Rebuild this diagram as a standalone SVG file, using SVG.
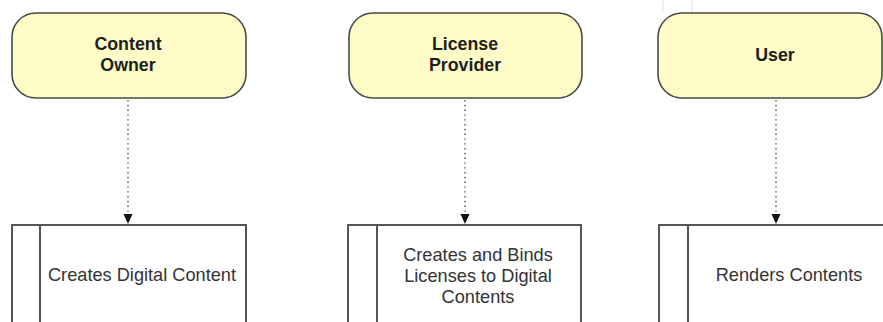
<svg xmlns="http://www.w3.org/2000/svg" width="883" height="322" viewBox="0 0 883 322">
<defs>
<style>
.node rect{fill:#FFFCC8;stroke:#4a4a4a;stroke-width:1.6}
.title{font-family:"Liberation Sans",Arial,sans-serif;font-weight:bold;font-size:17.8px;fill:#1e1e1e;text-anchor:middle}
.proc .outer{fill:#fff;stroke:#555;stroke-width:2}
.proc .bar{stroke:#555;stroke-width:2}
.label{font-family:"Liberation Sans",Arial,sans-serif;font-size:18.2px;fill:#333;text-anchor:middle}
.conn{stroke:#555;stroke-width:1.4;stroke-dasharray:1.4 3.4;fill:none}
.faint{stroke:#efefef;stroke-width:2}
</style>
<marker id="arr" markerWidth="12" markerHeight="12" refX="10" refY="5.5" orient="auto" markerUnits="userSpaceOnUse">
<path d="M0,1 L10,5.5 L0,10 Z" fill="#111"/>
</marker>
</defs>
<rect width="883" height="322" fill="#fff"/>
<line class="faint" x1="663" y1="0" x2="663" y2="12"/>
<line class="faint" x1="692" y1="0" x2="692" y2="12"/>

<g id="content-owner" class="node">
<rect x="12" y="13" width="234" height="85" rx="24" ry="24"/>
<text class="title" x="128" y="50">Content</text>
<text class="title" x="128" y="71">Owner</text>
</g>
<g id="license-provider" class="node">
<rect x="349" y="13" width="233" height="85" rx="24" ry="24"/>
<text class="title" x="465" y="50">License</text>
<text class="title" x="465" y="71">Provider</text>
</g>
<g id="user" class="node">
<rect x="658" y="13" width="224" height="85" rx="24" ry="24"/>
<text class="title" x="775" y="61">User</text>
</g>

<g id="creates-digital-content" class="proc">
<rect class="outer" x="12" y="225" width="234" height="110"/>
<line class="bar" x1="40" y1="225" x2="40" y2="330"/>
<text class="label" x="142" y="281">Creates Digital Content</text>
</g>
<g id="creates-and-binds" class="proc">
<rect class="outer" x="348" y="225" width="233" height="110"/>
<line class="bar" x1="377" y1="225" x2="377" y2="330"/>
<text class="label" x="478" y="261">Creates and Binds</text>
<text class="label" x="478" y="282">Licenses to Digital</text>
<text class="label" x="478" y="303">Contents</text>
</g>
<g id="renders-contents" class="proc">
<rect class="outer" x="659" y="225" width="240" height="110"/>
<line class="bar" x1="688" y1="225" x2="688" y2="330"/>
<text class="label" x="789" y="281">Renders Contents</text>
</g>

<g id="connectors">
<line class="conn" x1="128" y1="100" x2="128" y2="224" marker-end="url(#arr)"/>
<line class="conn" x1="465" y1="100" x2="465" y2="224" marker-end="url(#arr)"/>
<line class="conn" x1="776" y1="100" x2="776" y2="224" marker-end="url(#arr)"/>
</g>
</svg>
